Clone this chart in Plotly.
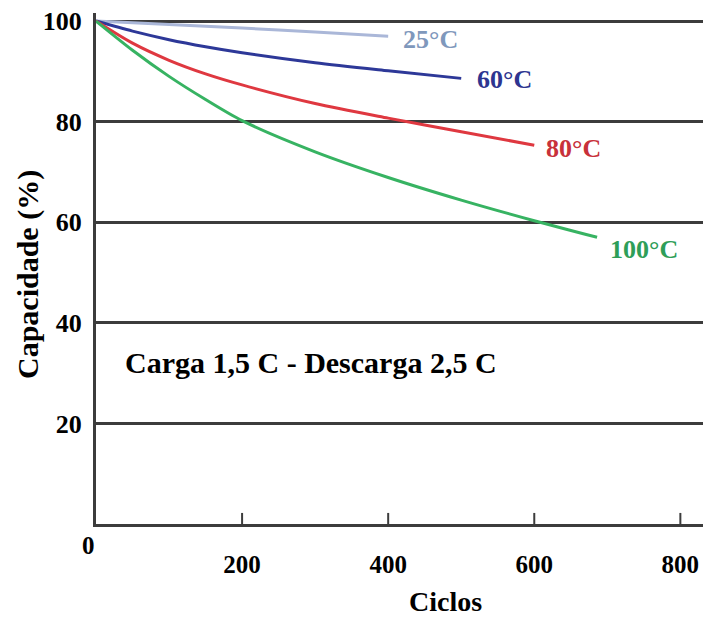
import plotly.graph_objects as go

# Capacity retention (%) vs. cycle count at different temperatures
cycles_25 = [0, 100, 200, 300, 400]
cap_25 = [100, 99.3, 98.6, 97.8, 97.0]

cycles_60 = [0, 50, 100, 150, 200, 300, 400, 500]
cap_60 = [100, 98.0, 96.3, 94.9, 93.7, 91.7, 90.1, 88.6]

cycles_80 = [0, 50, 100, 150, 200, 300, 400, 500, 600]
cap_80 = [100, 95.6, 92.2, 89.5, 87.3, 83.6, 80.7, 78.0, 75.3]

cycles_100 = [0, 50, 100, 150, 200, 300, 400, 500, 600, 686]
cap_100 = [100, 94.2, 89.0, 84.4, 80.2, 74.0, 68.9, 64.4, 60.3, 57.0]

labels = ["25°C", "60°C", "80°C", "100°C"]
x_ticks = [200, 400, 600, 800]
y_ticks = [20, 40, 60, 80, 100]

# line colour, label colour, label offset (px) from the end of each curve
styles = [
    ("#aab7d8", "#7f98bc", 13, -3),
    ("#2d3898", "#2d3590", 14, -1),
    ("#df3840", "#c8313a", 10, -3),
    ("#37b362", "#2e9e58", 11, -12),
]
data = [(cycles_25, cap_25), (cycles_60, cap_60), (cycles_80, cap_80), (cycles_100, cap_100)]

FONT = "Liberation Serif"
GRID = "#3c3c3c"

fig = go.Figure()
annotations = []
for name, (xs, ys), (line_col, text_col, dx, dy) in zip(labels, data, styles):
    fig.add_trace(go.Scatter(
        x=xs, y=ys, mode="lines", name=name,
        line=dict(color=line_col, width=3, shape="spline", smoothing=0.8),
        showlegend=False,
    ))
    annotations.append(dict(
        x=xs[-1], y=ys[-1], xref="x", yref="y", text=f"<b>{name}</b>",
        showarrow=False, xanchor="left", yanchor="middle", xshift=dx, yshift=dy,
        font=dict(family=FONT, size=26, color=text_col),
    ))

# tick marks crossing the x axis
shapes = [dict(type="line", xref="x", yref="y", x0=t, x1=t, y0=-2.2, y1=2.2,
               line=dict(color=GRID, width=2)) for t in x_ticks]

annotations.append(dict(
    x=0, y=0, xref="x", yref="y", text="<b>0</b>", showarrow=False,
    xanchor="center", yanchor="middle", xshift=-8, yshift=-21,
    font=dict(family=FONT, size=25, color="black")))

# layout geometry in pixels
L, R, T, B, W, H = 96, 0, 13, 93, 703, 617
pw, ph = W - L - R, H - T - B


def px_to_paper(px, py):
    return (px - L) / pw, (H - B - py) / ph


for text, (px, py), angle, anchor, size in [
    ("Carga 1,5 C - Descarga 2,5 C", (123, 362), 0, "left", 30),
    ("Capacidade (%)", (28, 275), -90, "center", 30),
    ("Ciclos", (445, 601), 0, "center", 28),
]:
    xp, yp = px_to_paper(px, py)
    annotations.append(dict(
        x=xp, y=yp, xref="paper", yref="paper", text=f"<b>{text}</b>",
        showarrow=False, textangle=angle, xanchor=anchor, yanchor="middle",
        font=dict(family=FONT, size=size, color="black")))

fig.update_layout(
    width=W, height=H,
    margin=dict(l=L, r=R, t=T, b=B, pad=0),
    paper_bgcolor="white", plot_bgcolor="white",
    xaxis=dict(range=[0, 831], tickvals=x_ticks,
               ticktext=[f"<b>{t}</b>" for t in x_ticks],
               showgrid=False, zeroline=False, showline=True,
               linecolor=GRID, linewidth=3, ticks="", ticklabelstandoff=16,
               tickfont=dict(family=FONT, size=25, color="black")),
    yaxis=dict(range=[0, 101.6], tickvals=y_ticks,
               ticktext=[f"<b>{t}</b>" for t in y_ticks],
               showgrid=True, gridcolor=GRID, gridwidth=2.5,
               zeroline=False, showline=True, linecolor=GRID, linewidth=3,
               ticks="", ticklabelstandoff=6,
               tickfont=dict(family=FONT, size=26, color="black")),
    shapes=shapes,
    annotations=annotations,
)

fig.write_html("out.html")
